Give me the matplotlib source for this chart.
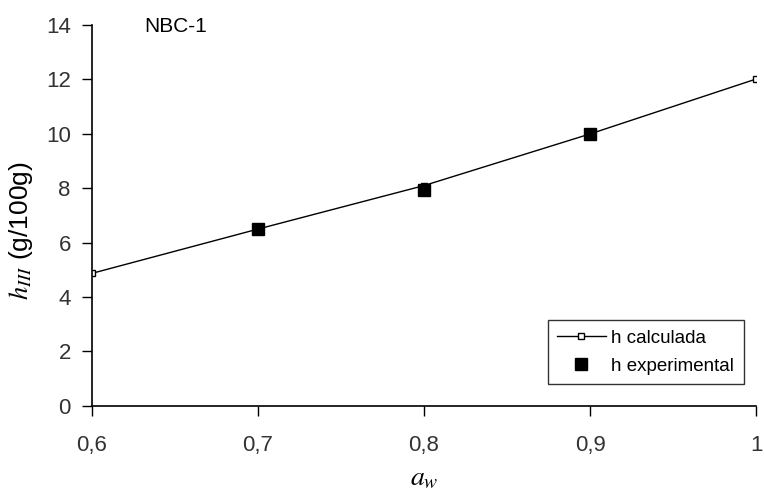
import matplotlib.pyplot as plt

plt.rcParams['font.family'] = ['Liberation Sans', 'DejaVu Sans']
plt.rcParams['mathtext.fontset'] = 'stix'

aw_calc = [0.6, 0.7, 0.8, 0.9, 1.0]
h_calc = [4.87, 6.5, 8.1, 10.0, 12.02]
aw_exp = [0.7, 0.8, 0.9]
h_exp = [6.5, 7.95, 10.0]

x_ticks = [0.6, 0.7, 0.8, 0.9, 1.0]
x_labels = ["0,6", "0,7", "0,8", "0,9", "1"]
y_ticks = [0, 2, 4, 6, 8, 10, 12, 14]

fig = plt.figure(figsize=(7.64, 4.92), dpi=100)
ax = fig.add_axes([0.120, 0.175, 0.870, 0.774])

ax.plot(aw_calc, h_calc, "-s", color="black", lw=1, markersize=5,
        markerfacecolor="white", markeredgewidth=1, label="h calculada", zorder=2)
ax.plot(aw_exp, h_exp, "s", color="black", markersize=9, linestyle="none",
        label="h experimental", zorder=3)

ax.set_xlim(0.6, 1.0)
ax.set_ylim(0, 14)
ax.set_xticks(x_ticks)
ax.set_xticklabels(x_labels)
ax.set_yticks(y_ticks)
ax.tick_params(direction="out", length=7, width=1, labelsize=16, colors="black",
               labelcolor="#333333")
ax.tick_params(axis="x", pad=14)
ax.tick_params(axis="y", pad=8)
for s in ["top", "right"]:
    ax.spines[s].set_visible(False)
for s in ["left", "bottom"]:
    ax.spines[s].set_linewidth(1.2)
    ax.spines[s].set_clip_on(False)

ax.set_xlabel(r"$a_w$", fontsize=20)
ax.xaxis.set_label_coords(0.5, -0.155)
ax.set_ylabel(r"$h_{III}$ (g/100g)", fontsize=19)
ax.yaxis.set_label_coords(-0.085, 0.46)

ax.text(0.079, 0.995, "NBC-1", transform=ax.transAxes, fontsize=15,
        ha="left", va="center")

leg = ax.legend(loc="upper right", bbox_to_anchor=(0.995, 0.25), fontsize=13.5,
                frameon=True, fancybox=False, edgecolor="black",
                handlelength=2.6, handletextpad=0.3, borderpad=0.5,
                labelspacing=0.6)
leg.get_frame().set_linewidth(1)

fig.savefig("out.png", dpi=100)
